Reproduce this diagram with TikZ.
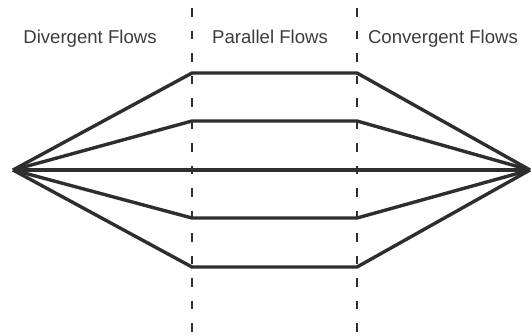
\documentclass[tikz,border=0pt]{standalone}
\usepackage{fontspec}
\setmainfont{Liberation Sans}
\usetikzlibrary{positioning}
\definecolor{flowgray}{HTML}{2E2E2E}
\definecolor{textgray}{HTML}{3C3C3C}

\begin{document}
\begin{tikzpicture}[x=1pt,y=-1pt]
\tikzstyle{flow}=[draw=flowgray, line width=3.4pt, line join=miter]
\tikzstyle{divider}=[draw=flowgray, line width=2.8pt, dash pattern=on 8.5pt off 14pt]
\tikzstyle{zonelabel}=[text=textgray, font=\fontsize{18.6}{22}\selectfont, inner sep=0pt, anchor=base]
\useasboundingbox (0,0) rectangle (532,335);
% sources, sinks and dividers
\coordinate (src) at (13,170);
\coordinate (snk) at (530,170);
\coordinate (d1top) at (192,8);
\coordinate (d1bot) at (192,335);
\coordinate (d2top) at (357,8);
\coordinate (d2bot) at (357,335);
\draw [divider] (d1top) -- (d1bot);
\draw [divider] (d2top) -- (d2bot);
% flows
\foreach \i/\y in {1/73,2/121,3/170,4/218,5/267} {
  \coordinate (a\i) at (192,\y);
  \coordinate (b\i) at (357,\y);
  \draw [flow] (src) -- (a\i) -- (b\i) -- (snk);
}
% labels
\node [zonelabel] (div) at (90,43) {Divergent Flows};
\node [zonelabel] (par) at (270,43) {Parallel Flows};
\node [zonelabel] (con) at (443,43) {Convergent Flows};
\end{tikzpicture}
\end{document}
